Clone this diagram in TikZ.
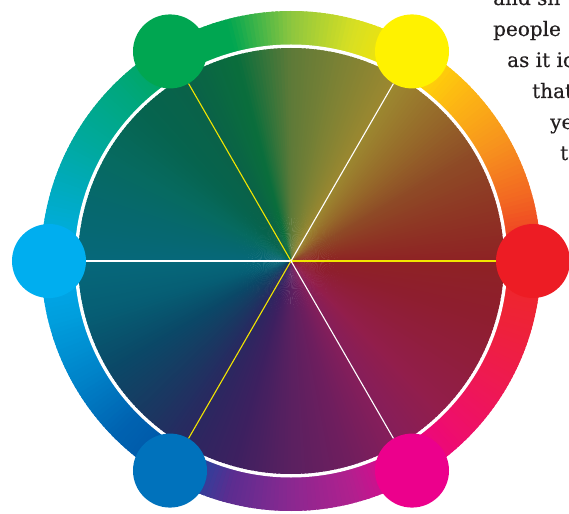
\documentclass[tikz,border=0pt]{standalone}
\usepackage{fontspec}
\usepackage{xcolor}
\usepackage{tikz}
\newfontfamily\bodyfont[FakeBold=0.4]{DejaVu Serif}

\definecolor{inkgray}{HTML}{231F20}
\definecolor{wheelred}{HTML}{ED1C24}
\definecolor{wheelyellow}{HTML}{FFF200}
\definecolor{wheelgreen}{HTML}{00A651}
\definecolor{wheelcyan}{HTML}{00AEEF}
\definecolor{wheelblue}{HTML}{0072BC}
\definecolor{wheelmagenta}{HTML}{EC008C}
\definecolor{spokeyellow}{HTML}{F2E600}

% outer ring, one stop every 15 degrees
\definecolor{ring0}{HTML}{EE2A24}
\definecolor{ring15}{HTML}{F26522}
\definecolor{ring30}{HTML}{F7941D}
\definecolor{ring45}{HTML}{FDB913}
\definecolor{ring60}{HTML}{FFE600}
\definecolor{ring75}{HTML}{D7DF23}
\definecolor{ring90}{HTML}{8DC63F}
\definecolor{ring105}{HTML}{00A651}
\definecolor{ring120}{HTML}{00A651}
\definecolor{ring135}{HTML}{00A77E}
\definecolor{ring150}{HTML}{00A99D}
\definecolor{ring165}{HTML}{00ABC5}
\definecolor{ring180}{HTML}{00AEEF}
\definecolor{ring195}{HTML}{009DDC}
\definecolor{ring210}{HTML}{0082C8}
\definecolor{ring225}{HTML}{0062B0}
\definecolor{ring240}{HTML}{0054A6}
\definecolor{ring255}{HTML}{5B2D90}
\definecolor{ring270}{HTML}{8A2890}
\definecolor{ring285}{HTML}{B1208E}
\definecolor{ring300}{HTML}{EC008C}
\definecolor{ring315}{HTML}{EE0F6A}
\definecolor{ring330}{HTML}{EE1A50}
\definecolor{ring345}{HTML}{EE2238}

% inner disc
\definecolor{disk0}{HTML}{8E2224}
\definecolor{disk15}{HTML}{8E3524}
\definecolor{disk30}{HTML}{8E4A26}
\definecolor{disk45}{HTML}{966A2A}
\definecolor{disk60}{HTML}{9C8830}
\definecolor{disk75}{HTML}{7E8234}
\definecolor{disk90}{HTML}{5E7A38}
\definecolor{disk105}{HTML}{0A6E3C}
\definecolor{disk120}{HTML}{0A6248}
\definecolor{disk135}{HTML}{06644F}
\definecolor{disk150}{HTML}{066A60}
\definecolor{disk165}{HTML}{06686E}
\definecolor{disk180}{HTML}{06687A}
\definecolor{disk195}{HTML}{065E74}
\definecolor{disk210}{HTML}{0A4A68}
\definecolor{disk225}{HTML}{183A62}
\definecolor{disk240}{HTML}{2A2860}
\definecolor{disk255}{HTML}{3E2060}
\definecolor{disk270}{HTML}{5A2060}
\definecolor{disk285}{HTML}{6E1E5E}
\definecolor{disk300}{HTML}{861E5A}
\definecolor{disk315}{HTML}{921E4C}
\definecolor{disk330}{HTML}{901E3C}
\definecolor{disk345}{HTML}{8E1E2E}

\begin{document}
\begin{tikzpicture}[x=1pt, y=1pt,
    spoke/.style={line width=1.1pt},
    dot/.style={circle, minimum size=74pt, inner sep=0pt},
    bodytext/.style={font=\bodyfont\fontsize{20pt}{31pt}\selectfont, text=inkgray,
                     anchor=base west, inner sep=0pt},
]
    \useasboundingbox (-291,-252) rectangle (278,261);
    \clip (-291,-252) rectangle (278,261);
    \coordinate (hub) at (0,0);

    % outer ring
    \foreach \a in {0,15,...,345} {
        \pgfmathtruncatemacro\b{mod(\a+15,360)}
        \foreach \t in {0,...,14} {
            \pgfmathtruncatemacro\p{100-(\t+0.5)*100/15}
            \fill[ring\a!\p!ring\b] (hub) -- (\a+\t:250pt)
                arc[start angle=\a+\t, delta angle=1.6, radius=250pt] -- cycle;
        }
    }
    \fill[white] (hub) circle[radius=216.5pt];

    % inner disc
    \foreach \a in {0,15,...,345} {
        \pgfmathtruncatemacro\b{mod(\a+15,360)}
        \foreach \t in {0,...,14} {
            \pgfmathtruncatemacro\p{100-(\t+0.5)*100/15}
            \fill[disk\a!\p!disk\b] (hub) -- (\a+\t:213pt)
                arc[start angle=\a+\t, delta angle=1.6, radius=213pt] -- cycle;
        }
    }

    \node[dot, fill=wheelred]     (red)     at (0:242pt)   {};
    \node[dot, fill=wheelyellow]  (yellow)  at (60:242pt)  {};
    \node[dot, fill=wheelgreen]   (green)   at (120:242pt) {};
    \node[dot, fill=wheelcyan]    (cyan)    at (180:242pt) {};
    \node[dot, fill=wheelblue]    (blue)    at (240:242pt) {};
    \node[dot, fill=wheelmagenta] (magenta) at (300:242pt) {};

    \draw[spoke, spokeyellow] (hub) -- (red);
    \draw[spoke, white]       (hub) -- (yellow);
    \draw[spoke, spokeyellow] (hub) -- (green);
    \draw[spoke, white]       (hub) -- (cyan);
    \draw[spoke, spokeyellow] (hub) -- (blue);
    \draw[spoke, white]       (hub) -- (magenta);

    \node[bodytext] (line1) at (202,256) {and sh};
    \node[bodytext] (line2) at (202,225) {people};
    \node[bodytext] (line3) at (216,194) {as it id};
    \node[bodytext] (line4) at (241,163) {that};
    \node[bodytext] (line5) at (259,132) {ye};
    \node[bodytext] (line6) at (269,101) {t};
\end{tikzpicture}
\end{document}
